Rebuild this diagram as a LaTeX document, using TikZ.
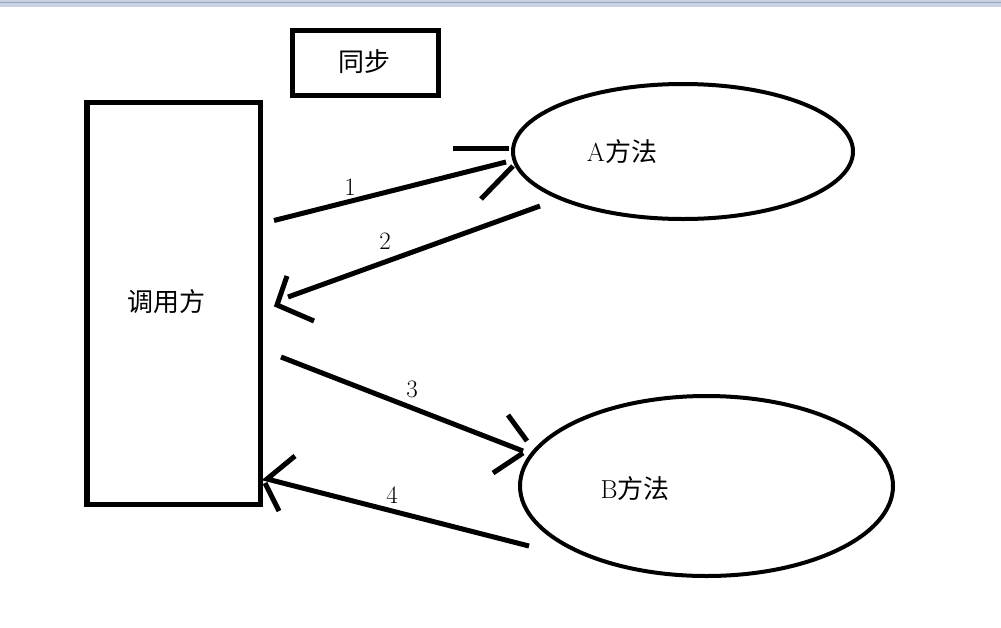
\documentclass[tikz,border=0pt]{standalone}
\usepackage{fontspec}
\newfontfamily\cjk{Noto Sans CJK SC}
\usetikzlibrary{shapes.geometric}
\begin{document}
\begin{tikzpicture}[x=1pt,y=-1pt,
  frame/.style={draw=black,line width=5.5pt,inner sep=0pt},
  oval/.style={draw=black,line width=4pt,ellipse,inner sep=0pt},
  txt/.style={font=\fontsize{26}{30}\selectfont\cjk,inner sep=0pt},
  num/.style={font=\fontsize{25}{30}\selectfont,inner sep=0pt},
  stroke/.style={line width=5pt}]
\useasboundingbox (0,0) rectangle (1001,627);
\fill[white] (0,0) rectangle (1001,627);
\fill[fill={rgb,255:red,200;green,210;blue,226}] (0,0) rectangle (1001,7);
\draw[draw={rgb,255:red,150;green,165;blue,188},line width=1pt] (0,2.5) -- (1001,2.5);
% nodes
\node[frame,minimum width=146pt,minimum height=65pt] (sync) at (365.5,63) {};
\node[txt] (synct) at (364,62) {同步};
\node[frame,minimum width=173.5pt,minimum height=402pt] (caller) at (173.5,303.5) {};
\node[txt] (callert) at (166,302) {调用方};
\node[oval,minimum width=340pt,minimum height=135pt] (A) at (683,151.5) {};
\node[txt] (At) at (622,152) {{\rmfamily A}方法};
\node[oval,minimum width=373pt,minimum height=180pt] (B) at (706.5,486) {};
\node[txt] (Bt) at (635,489) {{\rmfamily B}方法};
% arrow endpoints
\coordinate (a1s) at (274,220.5);
\coordinate (a1e) at (506,162);
\coordinate (h1a) at (453,148);
\coordinate (h1b) at (509,148);
\coordinate (h1c) at (481,199);
\coordinate (h1d) at (513,166);
\coordinate (a2s) at (540,206);
\coordinate (a2e) at (288,297);
\coordinate (h2a) at (287,276);
\coordinate (h2b) at (277,305);
\coordinate (h2c) at (314,321);
\coordinate (a3s) at (281,357);
\coordinate (a3e) at (523,451);
\coordinate (h3a) at (508,415);
\coordinate (h3b) at (527,441);
\coordinate (h3c) at (523,453);
\coordinate (h3d) at (493,473);
\coordinate (a4s) at (529,546);
\coordinate (a4e) at (267,479);
\coordinate (h4a) at (295,456);
\coordinate (h4b) at (265,483);
\coordinate (h4c) at (279,511);
% connectors
\draw[stroke] (a1s) -- (a1e);
\draw[stroke] (h1a) -- (h1b);
\draw[stroke] (h1c) -- (h1d);
\draw[stroke] (a2s) -- (a2e);
\draw[stroke] (h2a) -- (h2b) -- (h2c);
\draw[stroke] (a3s) -- (a3e);
\draw[stroke] (h3a) -- (h3b);
\draw[stroke] (h3c) -- (h3d);
\draw[stroke] (a4s) -- (a4e) -- (h4a);
\draw[stroke] (h4b) -- (h4c);
% labels
\node[num] (l1) at (350,187) {1};
\node[num] (l2) at (385,241) {2};
\node[num] (l3) at (412,389) {3};
\node[num] (l4) at (392,495) {4};
\end{tikzpicture}
\end{document}
